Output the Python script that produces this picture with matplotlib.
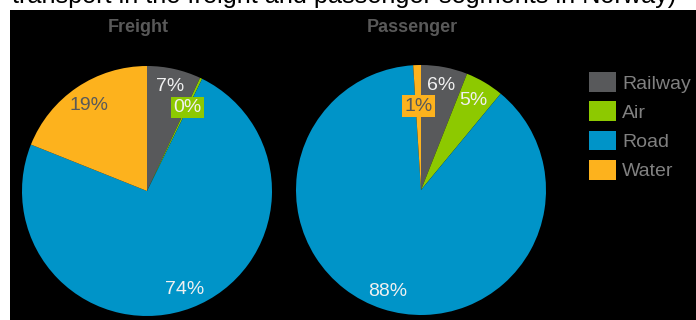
import numpy as np
import matplotlib
matplotlib.use("Agg")
import matplotlib.pyplot as plt
from matplotlib.patches import Rectangle

plt.rcParams['font.family'] = ['Liberation Sans', 'DejaVu Sans']

# dane
kategorie = ["Railway", "Air", "Road", "Water"]
freight = [7, 0.3, 74, 19]
passenger = [6, 5, 88, 1]
tytuly = ["Freight", "Passenger"]
naglowek = "transport in the freight and passenger segments in Norway)"

kolory = ["#58595b", "#8dc900", "#0094c8", "#fdb21d"]
szary = "#595959"

fig = plt.figure(figsize=(6.96, 3.2), dpi=100)
fig.patch.set_facecolor("white")
fig.patches.append(Rectangle((10/696, 0), 1, 310/320, transform=fig.transFigure,
                             facecolor="black", edgecolor="none", zorder=-10))

# naglowek uciety u gory
fig.text(12/696, 1 - 3.5/320, naglowek, fontsize=18.2, color="black", va="baseline", ha="left")

# styl etykiet: promien, kolor tekstu, kolor ramki (None = bez ramki)
styl = {
    0: [(0.86, "#f0f0f0", None), (0.74, "#f0f0f0", kolory[1]), (0.84, "#f0f0f0", None), (0.83, szary, None)],
    1: [(0.85, "#f0f0f0", None), (0.83, "#f0f0f0", None), (0.855, "#f0f0f0", None), (0.67, szary, kolory[3])],
}

pozycje = [(22, 66), (296, 65)]  # lewy gorny rog osi w px
rozmiar = 250

for k, (dane, tytul) in enumerate(zip([freight, passenger], tytuly)):
    x0, y0 = pozycje[k]
    ax = fig.add_axes([x0/696, 1 - (y0 + rozmiar)/320, rozmiar/696, rozmiar/320])
    klin, _ = ax.pie(dane, colors=kolory, startangle=90, counterclock=False,
                     wedgeprops=dict(linewidth=0))
    ax.set_xlim(-1, 1)
    ax.set_ylim(-1, 1)
    ax.set_aspect("equal")
    ax.axis("off")
    for i, w in enumerate(klin):
        th = np.deg2rad((w.theta1 + w.theta2) / 2)
        r, c, box = styl[k][i]
        bb = None
        if box is not None:
            bb = dict(boxstyle="square,pad=0.12", facecolor=box, edgecolor="none")
        ax.text(r*np.cos(th), r*np.sin(th), f"{dane[i]:.0f}%", ha="center", va="center",
                fontsize=14, color=c, bbox=bb)
    fig.text((x0 + rozmiar/2 - 9)/696, 1 - 27/320, tytul,
             ha="center", va="center", fontsize=13, fontweight="bold", color=szary)

fig.legend(klin, kategorie, loc="upper left", bbox_to_anchor=(589/696, 1 - 72/320),
           frameon=False, fontsize=14, labelcolor="#808080", handlelength=1.4,
           handleheight=1.2, labelspacing=0.45, handletextpad=0.3, borderpad=0,
           borderaxespad=0)

fig.savefig("out.png", dpi=100, facecolor=fig.get_facecolor())
